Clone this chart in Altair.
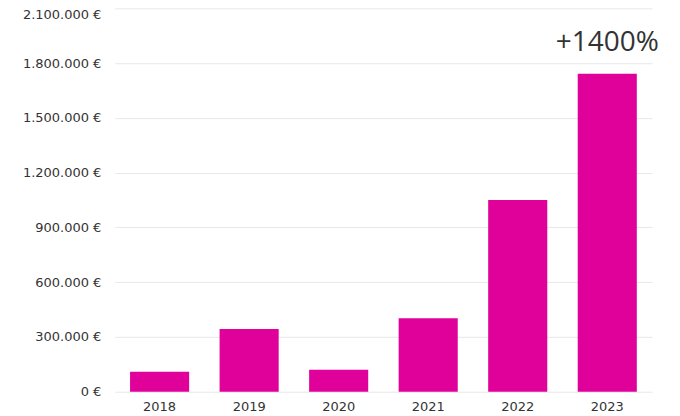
import altair as alt
import pandas as pd

years = ["2018", "2019", "2020", "2021", "2022", "2023"]
values = [110000, 343000, 120000, 403000, 1050000, 1741000]
y_ticks = [0, 300000, 600000, 900000, 1200000, 1500000, 1800000, 2100000]
note_year = ["2023"]
note_value = [1741000]
note_text = ["+1400%"]

df = pd.DataFrame({"year": years, "value": values})
note = pd.DataFrame({"year": note_year, "value": note_value, "label": note_text})

FONT = "DejaVu Sans"

x = alt.X("year:N", sort=years, title=None,
          scale=alt.Scale(paddingInner=0.34, paddingOuter=0.17),
          axis=alt.Axis(labelAngle=0, ticks=False, domain=False, labelPadding=9,
                        labelFontSize=13, labelColor="#333333", labelFont=FONT))
y = alt.Y("value:Q", title=None,
          scale=alt.Scale(domain=[0, 2100000], nice=False),
          axis=alt.Axis(values=y_ticks, ticks=False, domain=False, labelPadding=14,
                        labelFontSize=13, labelColor="#333333", labelFont=FONT,
                        gridColor="#e8e8e8", gridWidth=1,
                        labelOffset={"condition": {"test": "datum.value == 2100000", "value": 6}, "value": 0},
                        labelExpr="replace(format(datum.value, ',d'), /,/g, '.') + ' €'"))

bars = alt.Chart(df).mark_bar(color="#E0009A").encode(x=x, y=y)

text = alt.Chart(note).mark_text(font="Open Sans", fontSize=28, color="#333333",
                                 baseline="bottom", dy=-17).encode(
    x=alt.X("year:N", sort=years), y="value:Q", text="label:N")

chart = alt.layer(bars, text).properties(
    width=538, height=384,
    autosize=alt.AutoSizeParams(type="none"),
    padding={"left": 107, "top": 0, "right": 20, "bottom": 24},
).configure_view(stroke=None)

chart.save("out.html", embed_options={"renderer": "svg", "actions": False})
